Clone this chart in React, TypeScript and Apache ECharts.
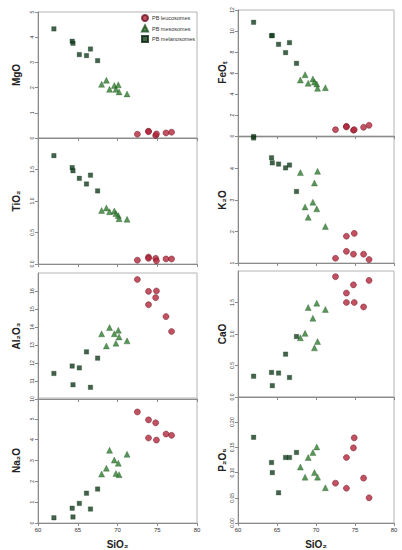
import React, { useEffect, useRef } from 'react';
import * as echarts from 'echarts';

// SiO2 (x) per sample group
const SIO2_LEUCO = [72.5, 73.9, 73.9, 74.8, 74.9, 76.1, 76.8];
const SIO2_MESO = [68.0, 68.6, 69.0, 69.6, 69.8, 70.1, 70.2, 71.2];
const SIO2_MELANO = [62.0, 64.3, 64.4, 65.2, 66.1, 66.6, 67.5];

const MGO_LEUCO = [0.15, 0.27, 0.25, 0.1, 0.16, 0.2, 0.23];
const MGO_MESO = [2.13, 2.29, 1.93, 2.08, 1.93, 2.11, 1.83, 1.75];
const MGO_MELANO = [4.33, 3.84, 3.76, 3.31, 3.27, 3.53, 3.07];

const FEOT_LEUCO = [0.6, 0.92, 0.86, 0.55, 0.6, 0.83, 1.02];
const FEOT_MESO = [5.33, 5.84, 5.02, 5.43, 5.14, 4.95, 4.54, 4.6];
const FEOT_MELANO = [10.83, 9.56, 9.56, 8.73, 7.94, 8.89, 6.92];
const FEOT_MELANO_AXIS_POINT = [62.0, -0.05];

const TIO2_LEUCO = [0.06, 0.11, 0.09, 0.09, 0.05, 0.08, 0.08];
const TIO2_MESO = [0.85, 0.89, 0.83, 0.84, 0.8, 0.77, 0.72, 0.71];
const TIO2_MELANO = [1.72, 1.53, 1.48, 1.36, 1.27, 1.41, 1.16];

const K2O_LEUCO = [1.15, 1.85, 1.37, 1.28, 1.94, 1.28, 1.11];
const K2O_MESO = [3.87, 2.78, 2.45, 2.93, 3.54, 2.72, 3.91, 2.16];
const K2O_MELANO = [4.97, 4.34, 4.18, 4.14, 4.02, 4.11, 3.27];

const AL2O3_LEUCO = [16.64, 15.98, 15.24, 15.63, 16.0, 14.58, 13.75];
const AL2O3_MESO = [13.62, 12.95, 13.97, 13.63, 13.1, 13.82, 13.45, 13.23];
const AL2O3_MELANO = [11.42, 11.83, 10.79, 11.73, 12.62, 10.65, 12.27];

const CAO_LEUCO = [1.91, 1.65, 1.5, 1.78, 1.5, 1.43, 1.85];
const CAO_MESO = [0.94, 1.01, 1.42, 1.25, 0.78, 1.49, 0.88, 1.39];
const CAO_MELANO = [0.33, 0.39, 0.18, 0.38, 0.68, 0.31, 0.96];

const NA2O_LEUCO = [5.33, 4.95, 4.08, 4.81, 3.98, 4.27, 4.21];
const NA2O_MESO = [2.35, 2.63, 3.49, 3.02, 2.38, 2.87, 2.32, 3.3];
const NA2O_MELANO = [0.25, 0.71, 0.29, 0.94, 1.43, 0.67, 1.63];

const P2O5_LEUCO = [0.079, 0.13, 0.069, 0.149, 0.169, 0.089, 0.05];
const P2O5_MESO = [0.111, 0.091, 0.13, 0.14, 0.1, 0.151, 0.091, 0.07];
const P2O5_MELANO = [0.17, 0.12, 0.1, 0.06, 0.13, 0.13, 0.14];

const SERIES_NAMES = ['PB leucosomes', 'PB mesosomes', 'PB melanosomes'];
const X_TICKS = [60, 65, 70, 75, 80];

const FONT = 'Arial, "Liberation Sans", sans-serif';

type Panel = {
  name: string;
  min: number;
  max: number;
  step: number;
  dec: number;
  leuco: number[];
  meso: number[];
  melano: number[];
  extra?: number[];
};

const PANELS: Panel[] = [
  { name: 'MgO', min: 0, max: 5, step: 1, dec: 0, leuco: MGO_LEUCO, meso: MGO_MESO, melano: MGO_MELANO },
  { name: 'FeOₜ', min: 0, max: 12, step: 2, dec: 0, leuco: FEOT_LEUCO, meso: FEOT_MESO, melano: FEOT_MELANO, extra: FEOT_MELANO_AXIS_POINT },
  { name: 'TiO₂', min: 0, max: 2, step: 0.5, dec: 1, leuco: TIO2_LEUCO, meso: TIO2_MESO, melano: TIO2_MELANO },
  { name: 'K₂O', min: 1, max: 5, step: 1, dec: 0, leuco: K2O_LEUCO, meso: K2O_MESO, melano: K2O_MELANO },
  { name: 'Al₂O₃', min: 10, max: 17, step: 1, dec: 0, leuco: AL2O3_LEUCO, meso: AL2O3_MESO, melano: AL2O3_MELANO },
  { name: 'CaO', min: 0, max: 2, step: 0.5, dec: 1, leuco: CAO_LEUCO, meso: CAO_MESO, melano: CAO_MELANO },
  { name: 'Na₂O', min: 0, max: 6, step: 1, dec: 0, leuco: NA2O_LEUCO, meso: NA2O_MESO, melano: NA2O_MELANO },
  { name: 'P₂O₅', min: 0, max: 0.25, step: 0.05, dec: 2, leuco: P2O5_LEUCO, meso: P2O5_MESO, melano: P2O5_MELANO },
];

// layout (px)
const COL_LEFT = [38, 238];
const COL_WIDTH = [159, 156];
const ROW_TOP = [
  [12, 138, 273, 398],
  [10, 137, 271, 397],
];
const ROW_HEIGHT = 126;

const LEUCO_STYLE = { color: '#b3263a', borderColor: '#6a1222', borderWidth: 0.6 };
const MESO_STYLE = { color: '#2f7d2f', borderColor: '#1b4d1b', borderWidth: 0.4 };
const MELANO_STYLE = { color: '#123d1c', borderColor: '#0a2410', borderWidth: 0.3 };

function pair(xs: number[], ys: number[]) {
  return ys.map((y, i) => [xs[i], y]);
}

export default function App() {
  const ref = useRef<HTMLDivElement>(null);
  useEffect(() => {
    if (!ref.current) return;
    const chart = echarts.init(ref.current, undefined, { renderer: 'svg' });
    const grids: any[] = [];
    const xAxes: any[] = [];
    const yAxes: any[] = [];
    const series: any[] = [];
    PANELS.forEach((p, i) => {
      const col = i % 2;
      const row = Math.floor(i / 2);
      const bottom = row === 3;
      grids.push({
        left: COL_LEFT[col],
        top: ROW_TOP[col][row],
        width: COL_WIDTH[col],
        height: ROW_HEIGHT,
        show: true,
        borderColor: '#b4b4b4',
        borderWidth: 1,
        backgroundColor: 'transparent',
      });
      xAxes.push({
        type: 'value',
        gridIndex: i,
        min: 60,
        max: 80,
        interval: 5,
        splitLine: { show: false },
        axisLine: { show: true, lineStyle: { color: '#8a8a8a', width: 1 } },
        axisTick: { show: true, inside: false, length: 3, lineStyle: { color: '#8a8a8a' } },
        axisLabel: {
          show: bottom,
          fontSize: 6,
          color: '#333',
          margin: 4,
          fontFamily: FONT,
          formatter: (v: number) => (X_TICKS.includes(v) ? String(v) : ''),
        },
        name: bottom ? 'SiO₂' : '',
        nameLocation: 'middle',
        nameGap: 16,
        nameTextStyle: { fontSize: 10, fontWeight: 'bold', color: '#222', fontFamily: FONT },
      });
      yAxes.push({
        type: 'value',
        gridIndex: i,
        min: p.min,
        max: p.max,
        interval: p.step,
        splitLine: { show: false },
        axisLine: { show: true, lineStyle: { color: '#8a8a8a', width: 1 } },
        axisTick: { show: true, inside: false, length: 3, lineStyle: { color: '#8a8a8a' } },
        axisLabel: {
          fontSize: 5,
          color: '#333',
          rotate: 90,
          margin: 4,
          fontFamily: FONT,
          showMaxLabel: row === 0,
          formatter: (v: number) => v.toFixed(p.dec),
        },
        name: p.name,
        nameLocation: 'middle',
        nameGap: col === 0 ? 17 : 11,
        nameRotate: 90,
        nameTextStyle: { fontSize: 10, fontWeight: 'bold', color: '#222', fontFamily: FONT },
      });
      const melanoData = pair(SIO2_MELANO, p.melano);
      if (p.extra) melanoData.push(p.extra);
      series.push(
        {
          type: 'scatter',
          name: SERIES_NAMES[0],
          xAxisIndex: i,
          yAxisIndex: i,
          symbol: 'circle',
          symbolSize: 6,
          clip: false,
          itemStyle: LEUCO_STYLE,
          data: pair(SIO2_LEUCO, p.leuco),
        },
        {
          type: 'scatter',
          name: SERIES_NAMES[1],
          xAxisIndex: i,
          yAxisIndex: i,
          symbol: 'triangle',
          symbolSize: 6,
          clip: false,
          itemStyle: MESO_STYLE,
          data: pair(SIO2_MESO, p.meso),
        },
        {
          type: 'scatter',
          name: SERIES_NAMES[2],
          xAxisIndex: i,
          yAxisIndex: i,
          symbol: 'rect',
          symbolSize: 4.5,
          clip: false,
          itemStyle: MELANO_STYLE,
          data: melanoData,
        }
      );
    });
    chart.setOption({
      animation: false,
      backgroundColor: '#ffffff',
      textStyle: { fontFamily: FONT },
      legend: {
        orient: 'vertical',
        left: 141,
        top: 14,
        itemWidth: 6,
        itemHeight: 6,
        itemGap: 2.5,
        padding: 0,
        textStyle: { fontSize: 5.5, color: '#333', fontFamily: FONT, padding: [0, 0, 0, -1] },
        data: [
          { name: SERIES_NAMES[0], icon: 'circle' },
          { name: SERIES_NAMES[1], icon: 'triangle' },
          { name: SERIES_NAMES[2], icon: 'rect' },
        ],
      },
      grid: grids,
      xAxis: xAxes,
      yAxis: yAxes,
      series,
    });
    return () => chart.dispose();
  }, []);
  return (
    <div
      ref={ref}
      style={{ position: 'fixed', left: 0, top: 0, width: 402, height: 550, background: '#fff' }}
    />
  );
}
